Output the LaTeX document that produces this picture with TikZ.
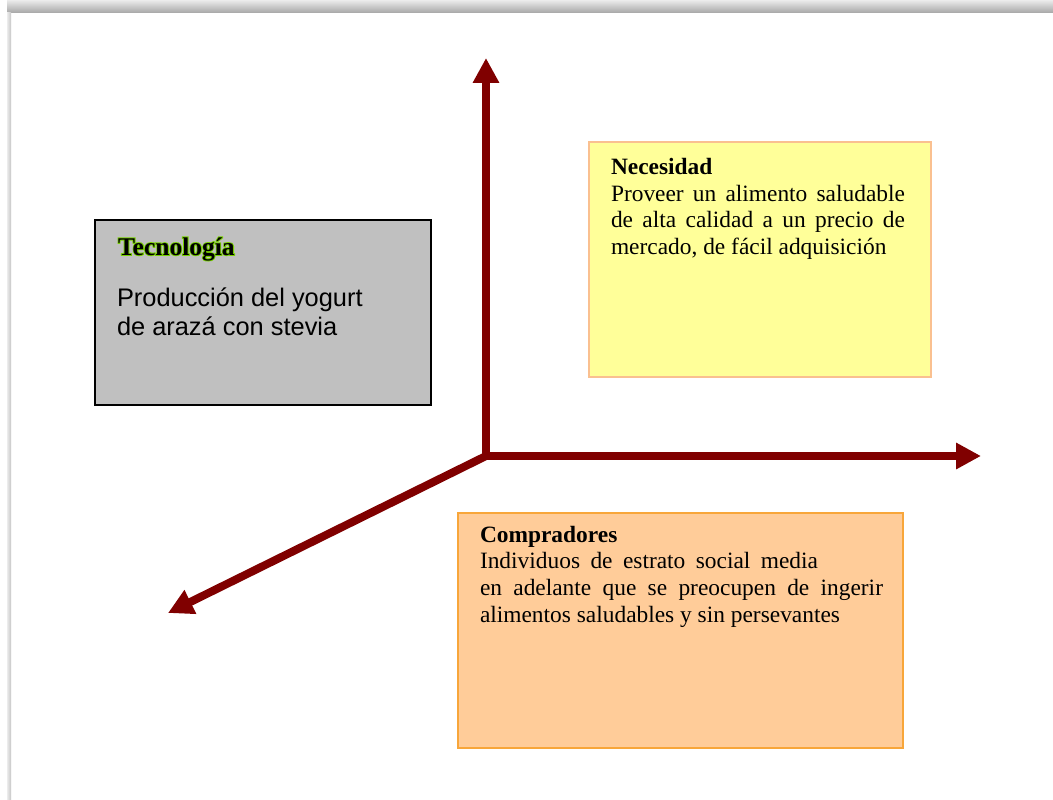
\documentclass[tikz,border=0pt]{standalone}
\usepackage{fontspec}
\setmainfont{Liberation Serif}
\newfontfamily\arialf{Liberation Sans}
\usetikzlibrary{arrows.meta}
\definecolor{axisred}{HTML}{800000}
\definecolor{tecgray}{HTML}{C0C0C0}
\definecolor{necfill}{HTML}{FFFF99}
\definecolor{necline}{HTML}{FAC090}
\definecolor{comfill}{HTML}{FFCC99}
\definecolor{comline}{HTML}{F8A63A}
\definecolor{glowg}{HTML}{77D000}
\newcommand\glowtxt[1]{%
  \makebox[0pt][l]{\color{glowg}\addfontfeature{FakeBold=7}#1}%
  #1}
\begin{document}
\begin{tikzpicture}[x=1pt,y=-1pt,
  axis/.style={draw=axisred,line width=8pt,-{Triangle[length=25pt,width=25pt]}},
  boxbase/.style={rectangle,anchor=north west,inner sep=0pt},
  tecbox/.style={boxbase,fill=tecgray,draw=black,line width=1.5pt},
  necbox/.style={boxbase,fill=necfill,draw=necline,line width=1.5pt},
  combox/.style={boxbase,fill=comfill,draw=comline,line width=2pt},
  txt/.style={anchor=base west,inner sep=0pt,outer sep=0pt}]
\useasboundingbox (0,0) rectangle (1053,800);
\fill[white] (0,0) rectangle (1053,800);
\shade[top color=gray!15,bottom color=gray!70] (7,0) rectangle (1053,13);
\shade[left color=gray!15,right color=gray!45] (7,13) rectangle (11,800);
% boxes
\node[tecbox,minimum width=336pt,minimum height=185pt] (tec) at (94,219) {};
\node[necbox,minimum width=342pt,minimum height=235pt] (nec) at (588,141) {};
\node[combox,minimum width=445pt,minimum height=235pt] (com) at (457,512) {};
% texts
\node[txt] (tectitle) at (118,255) {\fontsize{25.5}{28}\selectfont\bfseries\glowtxt{Tecnología}};
\node[txt] (tecbody) at (117,306) {\parbox[t]{300pt}{\arialf\fontsize{25.4}{29.5}\selectfont
  Producción del yogurt\\de arazá con stevia}};
\node[txt] (nectxt) at (611,174) {\parbox[t]{300pt}{\fontsize{23.4}{27}\selectfont
  \textbf{Necesidad}\\
  \makebox[294pt][s]{Proveer un alimento saludable}\\
  \makebox[294pt][s]{de alta calidad a un precio de}\\
  mercado, de fácil adquisición}};
\node[txt] (comtxt) at (480,542) {\parbox[t]{410pt}{\fontsize{23.4}{26.8}\selectfont
  \textbf{Compradores}\\
  \makebox[338pt][s]{Individuos de estrato social media}\\
  \makebox[403pt][s]{en adelante que se preocupen de ingerir}\\
  alimentos saludables y sin persevantes}};
% axes
\coordinate (O) at (486,456);
\coordinate (up) at (486,58);
\coordinate (right) at (981,456);
\coordinate (diag) at (168,613);
\draw[axis] (O) -- (up);
\draw[axis] (O) -- (right);
\draw[axis] (O) -- (diag);
\end{tikzpicture}
\end{document}
